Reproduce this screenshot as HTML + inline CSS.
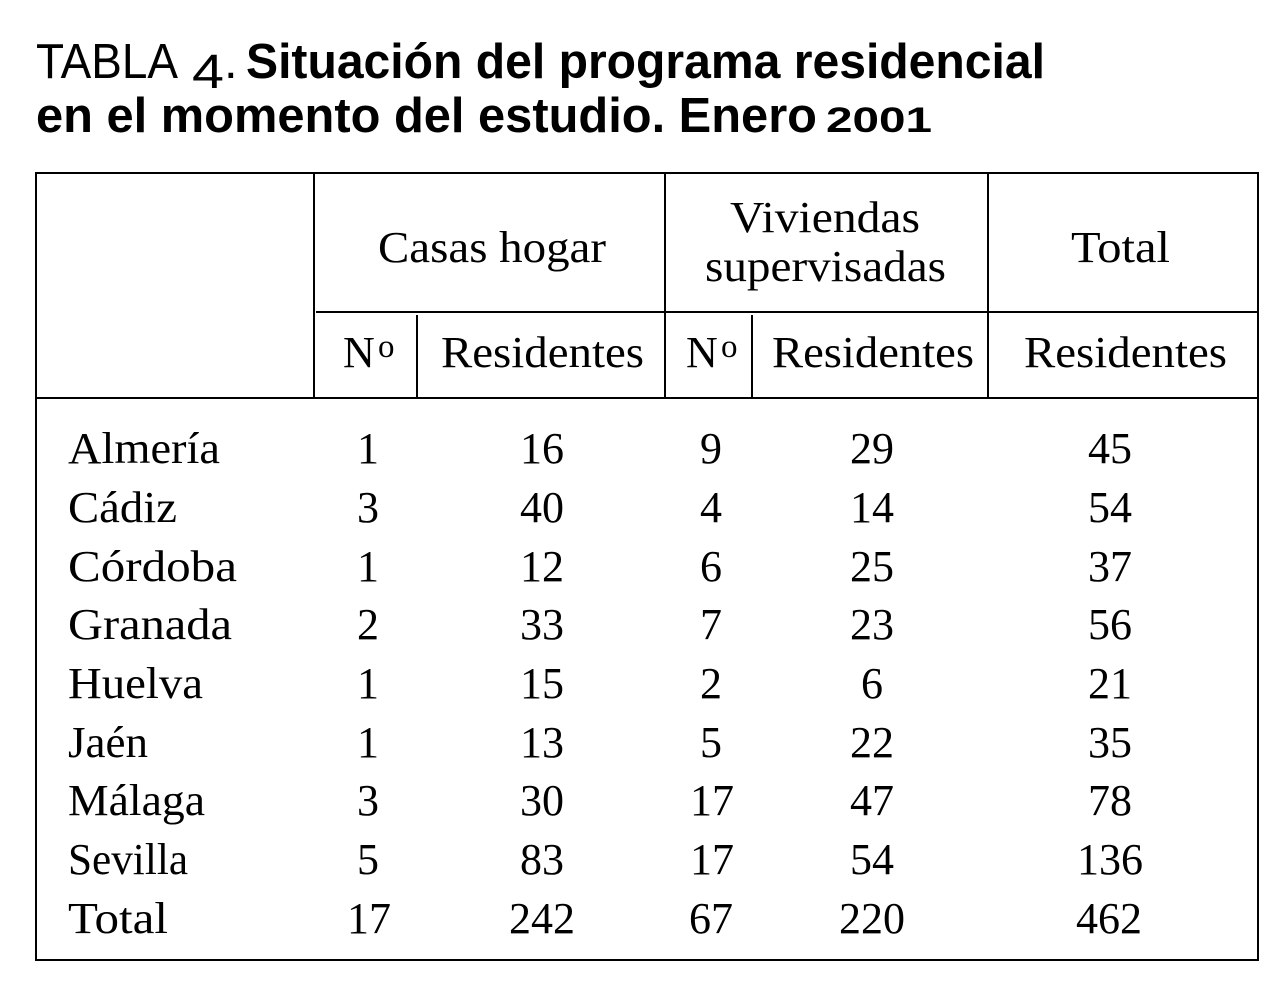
<!DOCTYPE html>
<html lang="es">
<head>
<meta charset="utf-8">
<title>Tabla 4</title>
<style>
html,body{margin:0;padding:0;background:#fff;width:1280px;height:998px;overflow:hidden}
svg{display:block}
.s{font-family:"Liberation Serif",serif;font-size:44px;fill:#000}
.m{text-anchor:middle}
.t{font-family:"Liberation Sans",sans-serif;font-size:49px;fill:#000}
.b{font-weight:700}
line,rect{stroke:#000;stroke-width:2;fill:none}
</style>
</head>
<body>
<svg width="1280" height="998" viewBox="0 0 1280 998">
<g>
<text class="t" x="36" y="78" textLength="142" lengthAdjust="spacingAndGlyphs">TABLA</text>
<text class="t" x="192" y="88" textLength="32" lengthAdjust="spacingAndGlyphs" style="font-size:48px">4</text>
<text class="t" x="224" y="78">.</text>
<text class="t b" x="246" y="78" textLength="799" lengthAdjust="spacingAndGlyphs">Situación del programa residencial</text>
<text class="t b" x="36" y="132" textLength="781" lengthAdjust="spacingAndGlyphs">en el momento del estudio. Enero</text>
<text class="t b" x="826" y="132" textLength="106" lengthAdjust="spacingAndGlyphs" style="font-size:35px">2001</text>
</g>
<g>
<rect x="36" y="173" width="1222" height="787"/>
<line x1="36" y1="398" x2="1258" y2="398"/>
<line x1="316" y1="312" x2="1258" y2="312"/>
<line x1="314" y1="173" x2="314" y2="398"/>
<line x1="665" y1="173" x2="665" y2="398"/>
<line x1="988" y1="173" x2="988" y2="398"/>
<line x1="417" y1="315" x2="417" y2="398"/>
<line x1="752" y1="315" x2="752" y2="398"/>
</g>
<g>
<text class="s" x="378" y="262" textLength="228" lengthAdjust="spacingAndGlyphs">Casas hogar</text>
<text class="s" x="730" y="232" textLength="190" lengthAdjust="spacingAndGlyphs">Viviendas</text>
<text class="s" x="705" y="281" textLength="241" lengthAdjust="spacingAndGlyphs">supervisadas</text>
<text class="s" x="1071" y="262" textLength="99" lengthAdjust="spacingAndGlyphs">Total</text>
<text class="s" x="343" y="367">N<tspan x="378" dy="-10" style="font-size:33px">o</tspan></text>
<text class="s" x="441" y="367" textLength="203" lengthAdjust="spacingAndGlyphs">Residentes</text>
<text class="s" x="686" y="367">N<tspan x="721" dy="-10" style="font-size:33px">o</tspan></text>
<text class="s" x="772" y="367" textLength="202" lengthAdjust="spacingAndGlyphs">Residentes</text>
<text class="s" x="1024" y="367" textLength="203" lengthAdjust="spacingAndGlyphs">Residentes</text>
</g>
<g>
<text class="s" x="68" y="463" textLength="152" lengthAdjust="spacingAndGlyphs">Almería</text>
<text class="s m" x="368" y="463">1</text><text class="s m" x="542" y="463">16</text><text class="s m" x="711" y="463">9</text><text class="s m" x="872" y="463">29</text><text class="s m" x="1110" y="463">45</text>
</g>
<g>
<text class="s" x="68" y="522" textLength="109" lengthAdjust="spacingAndGlyphs">Cádiz</text>
<text class="s m" x="368" y="522">3</text><text class="s m" x="542" y="522">40</text><text class="s m" x="711" y="522">4</text><text class="s m" x="872" y="522">14</text><text class="s m" x="1110" y="522">54</text>
</g>
<g>
<text class="s" x="68" y="581" textLength="169" lengthAdjust="spacingAndGlyphs">Córdoba</text>
<text class="s m" x="368" y="581">1</text><text class="s m" x="542" y="581">12</text><text class="s m" x="711" y="581">6</text><text class="s m" x="872" y="581">25</text><text class="s m" x="1110" y="581">37</text>
</g>
<g>
<text class="s" x="68" y="639" textLength="164" lengthAdjust="spacingAndGlyphs">Granada</text>
<text class="s m" x="368" y="639">2</text><text class="s m" x="542" y="639">33</text><text class="s m" x="711" y="639">7</text><text class="s m" x="872" y="639">23</text><text class="s m" x="1110" y="639">56</text>
</g>
<g>
<text class="s" x="68" y="698" textLength="135" lengthAdjust="spacingAndGlyphs">Huelva</text>
<text class="s m" x="368" y="698">1</text><text class="s m" x="542" y="698">15</text><text class="s m" x="711" y="698">2</text><text class="s m" x="872" y="698">6</text><text class="s m" x="1110" y="698">21</text>
</g>
<g>
<text class="s" x="68" y="757" textLength="80" lengthAdjust="spacingAndGlyphs">Jaén</text>
<text class="s m" x="368" y="757">1</text><text class="s m" x="542" y="757">13</text><text class="s m" x="711" y="757">5</text><text class="s m" x="872" y="757">22</text><text class="s m" x="1110" y="757">35</text>
</g>
<g>
<text class="s" x="68" y="815" textLength="137" lengthAdjust="spacingAndGlyphs">Málaga</text>
<text class="s m" x="368" y="815">3</text><text class="s m" x="542" y="815">30</text><text class="s m" x="712" y="815">17</text><text class="s m" x="872" y="815">47</text><text class="s m" x="1110" y="815">78</text>
</g>
<g>
<text class="s" x="68" y="874" textLength="120" lengthAdjust="spacingAndGlyphs">Sevilla</text>
<text class="s m" x="368" y="874">5</text><text class="s m" x="542" y="874">83</text><text class="s m" x="712" y="874">17</text><text class="s m" x="872" y="874">54</text><text class="s m" x="1110" y="874">136</text>
</g>
<g>
<text class="s" x="68" y="933" textLength="100" lengthAdjust="spacingAndGlyphs">Total</text>
<text class="s m" x="369" y="933">17</text><text class="s m" x="542" y="933">242</text><text class="s m" x="711" y="933">67</text><text class="s m" x="872" y="933">220</text><text class="s m" x="1109" y="933">462</text>
</g>
</svg>
</body>
</html>
